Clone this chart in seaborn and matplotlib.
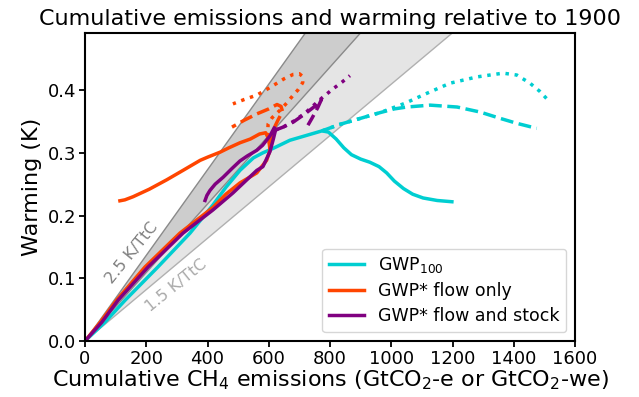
import numpy as np
import matplotlib
matplotlib.use("Agg")
import matplotlib.pyplot as plt
import seaborn as sns

# ---------------- data ----------------
# GWP100 (cyan)
gwp100_solid_x = [0, 65, 131, 238, 343, 418, 460, 506, 550, 581, 614, 669, 725, 774,
                  795, 820, 845, 870, 900, 930, 960, 985, 1010, 1040, 1070, 1104, 1150, 1198]
gwp100_solid_y = [0, 0.030, 0.065, 0.118, 0.172, 0.217, 0.245, 0.272, 0.292, 0.300,
                  0.307, 0.320, 0.328, 0.335, 0.333, 0.322, 0.308, 0.297, 0.290, 0.285,
                  0.278, 0.268, 0.255, 0.243, 0.234, 0.228, 0.224, 0.222]
gwp100_dash_x = [774, 830, 900, 963, 1010, 1051, 1127, 1215, 1290, 1355, 1410, 1475]
gwp100_dash_y = [0.335, 0.345, 0.355, 0.364, 0.370, 0.373, 0.376, 0.373, 0.365, 0.355, 0.347, 0.339]
gwp100_dot_x = [774, 830, 900, 963, 1045, 1117, 1192, 1280, 1365, 1410, 1453, 1485, 1512]
gwp100_dot_y = [0.335, 0.345, 0.355, 0.364, 0.379, 0.395, 0.411, 0.421, 0.427, 0.424, 0.411,
                0.398, 0.384]

# GWP* flow only (orange)
flow_solid_x = [0, 50, 103, 196, 310, 418, 460, 506, 561, 593, 604, 600, 590, 570, 540,
                506, 470, 441, 400, 376, 320, 267, 210, 157, 130, 114]
flow_solid_y = [0, 0.030, 0.065, 0.118, 0.172, 0.213, 0.234, 0.252, 0.268, 0.288, 0.304,
                0.322, 0.332, 0.330, 0.322, 0.316, 0.308, 0.301, 0.293, 0.288, 0.272, 0.257,
                0.242, 0.230, 0.225, 0.2235]
flow_dash_x = [604, 614, 630, 645, 640, 627, 600, 561, 520, 480]
flow_dash_y = [0.312, 0.336, 0.352, 0.366, 0.374, 0.377, 0.370, 0.362, 0.352, 0.341]
flow_dot_x = [604, 596, 598, 611, 637, 660, 680, 695, 711, 710, 700, 680, 650, 627, 590, 561,
              520, 483]
flow_dot_y = [0.312, 0.330, 0.346, 0.356, 0.368, 0.380, 0.392, 0.400, 0.412, 0.422, 0.426,
              0.425, 0.418, 0.411, 0.400, 0.392, 0.385, 0.378]

# GWP* flow and stock (purple)
stock_solid_x = [0, 55, 108, 206, 320, 418, 483, 561, 581, 604, 615, 622, 618, 604, 580,
                 561, 530, 506, 480, 451, 425, 408, 398, 392]
stock_solid_y = [0, 0.030, 0.065, 0.118, 0.172, 0.209, 0.236, 0.272, 0.278, 0.302, 0.322,
                 0.336, 0.340, 0.327, 0.312, 0.304, 0.295, 0.287, 0.275, 0.261, 0.250, 0.240,
                 0.232, 0.224]
stock_dash_x = [620, 647, 680, 718, 750, 772, 760, 741, 728]
stock_dash_y = [0.336, 0.341, 0.349, 0.362, 0.374, 0.385, 0.372, 0.355, 0.344]
stock_dot_x = [620, 647, 680, 718, 745, 775, 810, 840, 865]
stock_dot_y = [0.336, 0.341, 0.350, 0.363, 0.375, 0.388, 0.402, 0.413, 0.423]

# TCRE reference slopes (K per TtC), 1 TtC = 3664 GtCO2
tcre_low, tcre_mid, tcre_high = 1.5, 2.0, 2.5
gtco2_per_ttc = 3664.0

series_labels = ["GWP$_{100}$", "GWP* flow only", "GWP* flow and stock"]
series_colors = ["#00CED1", "#FF4500", "#800080"]

# ---------------- plot ----------------
fig = plt.figure(figsize=(6.39, 3.97), dpi=100)
ax = fig.add_axes([85 / 639, 1 - 341 / 397, 490 / 639, 308 / 397])

xs = np.linspace(0, 1600, 50)
lo = tcre_low * xs / gtco2_per_ttc
mid = tcre_mid * xs / gtco2_per_ttc
hi = tcre_high * xs / gtco2_per_ttc
ax.fill_between(xs, lo, mid, color="#e5e5e5", lw=0, zorder=0)
ax.fill_between(xs, mid, hi, color="#cdcdcd", lw=0, zorder=0)
ax.plot(xs, hi, color="#8a8a8a", lw=1, zorder=1)
ax.plot(xs, mid, color="#8a8a8a", lw=1, zorder=1)
ax.plot(xs, lo, color="#b0b0b0", lw=1, zorder=1)

ax.text(152, 0.141, "2.5 K/TtC", color="#808080", fontsize=11.5, rotation=51,
        ha="center", va="center", rotation_mode="anchor")
ax.text(298, 0.089, "1.5 K/TtC", color="#aaaaaa", fontsize=11.5, rotation=39,
        ha="center", va="center", rotation_mode="anchor")

groups = [
    (gwp100_solid_x, gwp100_solid_y, gwp100_dash_x, gwp100_dash_y, gwp100_dot_x, gwp100_dot_y),
    (flow_solid_x, flow_solid_y, flow_dash_x, flow_dash_y, flow_dot_x, flow_dot_y),
    (stock_solid_x, stock_solid_y, stock_dash_x, stock_dash_y, stock_dot_x, stock_dot_y),
]
lw = 2.5
for (sx, sy, dx, dy, ox, oy), lab, col in zip(groups, series_labels, series_colors):
    sns.lineplot(x=sx, y=sy, sort=False, estimator=None, color=col, lw=lw, ax=ax, label=lab)
    sns.lineplot(x=dx, y=dy, sort=False, estimator=None, color=col, lw=lw, ls="--", ax=ax)
    sns.lineplot(x=ox, y=oy, sort=False, estimator=None, color=col, lw=lw, ls=":", ax=ax)

ax.set_xlim(0, 1600)
ax.set_ylim(0, 0.491)
ax.set_xticks(np.arange(0, 1601, 200))
ax.set_yticks([0.0, 0.1, 0.2, 0.3, 0.4])
ax.tick_params(labelsize=13, width=1.3, length=4, pad=2.5)
for s in ax.spines.values():
    s.set_linewidth(1.5)

ax.set_xlabel("Cumulative CH$_4$ emissions (GtCO$_2$-e or GtCO$_2$-we)", fontsize=16, labelpad=0)
ax.set_ylabel("Warming (K)", fontsize=16)
ax.set_title("Cumulative emissions and warming relative to 1900", fontsize=16)
ax.legend(loc="lower right", fontsize=12.5, labelspacing=0.4)

fig.savefig("out.png", dpi=100)
